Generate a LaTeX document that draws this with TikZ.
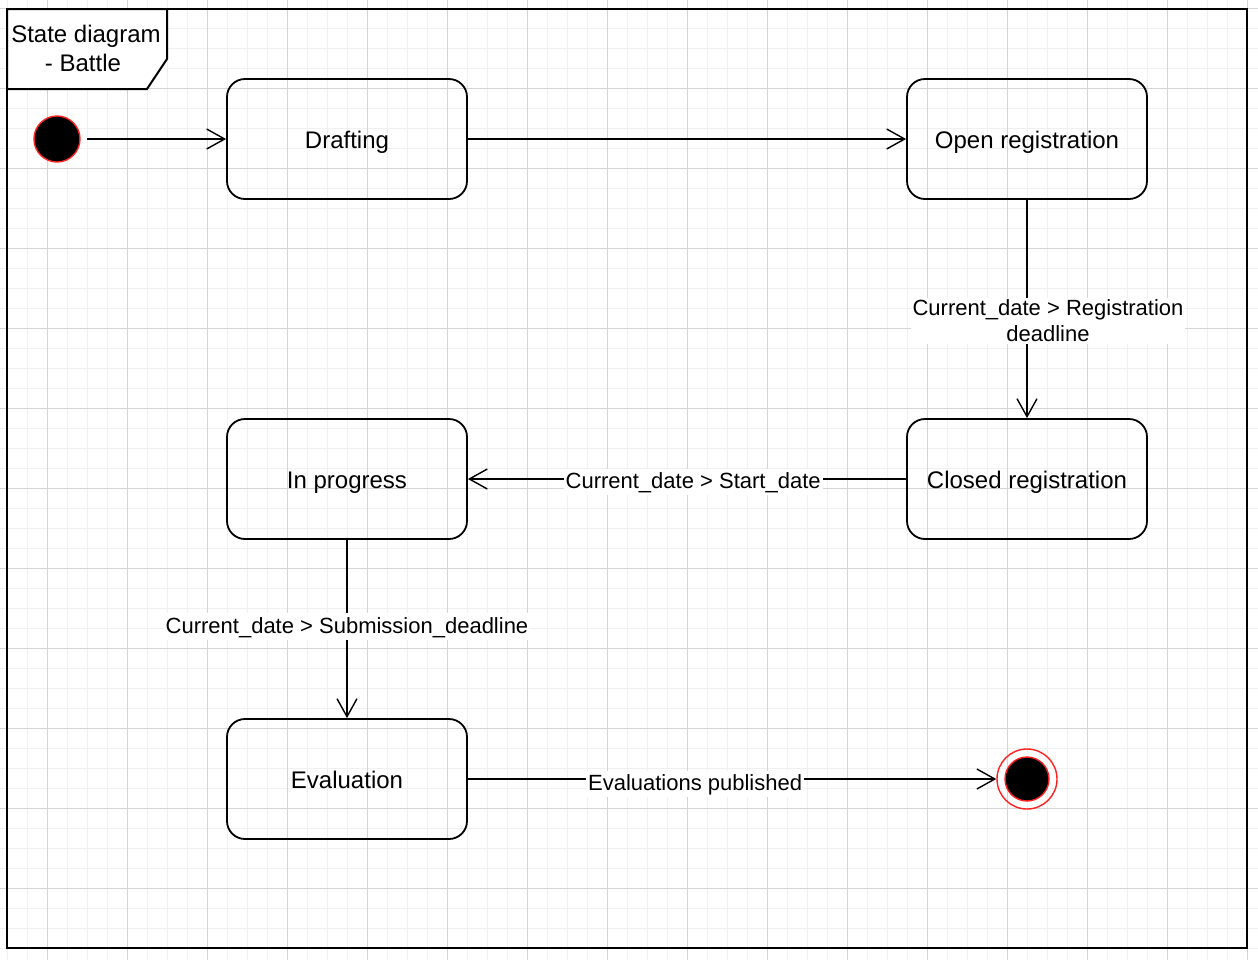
\documentclass[tikz,border=0pt]{standalone}
\usepackage{fontspec}
\setmainfont{Liberation Sans}
\usetikzlibrary{arrows.meta}
\definecolor{gridminor}{HTML}{F0F0F0}
\definecolor{gridmajor}{HTML}{D4D4D4}
\definecolor{stroke}{HTML}{FF2020}
\begin{document}
\begin{tikzpicture}[x=0.5pt, y=-0.5pt,
        state/.style={rectangle, draw, line width=0.9pt, rounded corners=9pt, minimum width=120pt, minimum height=60pt, text height=11.6pt, text depth=2.5pt, font=\fontsize{12}{14}\selectfont},
        initstate/.style={circle, minimum size=30pt, inner sep=0pt, path picture={\fill[draw=stroke, line width=0.7pt] (path picture bounding box.center) circle (11.5pt);}},
        finalstate/.style={circle, draw=stroke, line width=0.7pt, minimum size=30pt, inner sep=0pt, path picture={\fill[draw=stroke, line width=0.7pt] (path picture bounding box.center) circle (11pt);}},
        transition/.style={draw, line width=0.7pt, -{Straight Barb[length=9pt, width=10pt]}},
        guard/.style={fill=white, inner sep=1pt, font=\fontsize{11}{13}\selectfont, align=center},
        oneline/.style={text height=8.9pt, text depth=2.3pt, yshift=-1.5pt}]
    \useasboundingbox[fill=white] (0,0) rectangle (1258,960);

    % background grid
    \foreach \x in {7,27,...,1257} \draw[gridminor, line width=0.5pt] (\x,0) -- (\x,960);
    \foreach \y in {8,28,...,958} \draw[gridminor, line width=0.5pt] (0,\y) -- (1258,\y);
    \foreach \x in {47,127,...,1257} \draw[gridmajor, line width=0.5pt] (\x,0) -- (\x,960);
    \foreach \y in {8,88,...,958} \draw[gridmajor, line width=0.5pt] (0,\y) -- (1258,\y);

    % frame
    \draw[line width=1pt] (7,9) rectangle (1247,948);
    \draw[line width=1pt, fill=white] (7,9) -- (167,9) -- (167,59) -- (147,89) -- (7,89) -- cycle;
    \node[align=center, font=\fontsize{12}{14.5}\selectfont] (title) at (86,48) {State diagram\\\hspace*{-3pt}- Battle};

    \node[style=initstate] (init) at (57,139) {};
    \node[style=state] (draft) at (347,139) {Drafting};
    \node[style=state] (openreg) at (1027,139) {Open registration};
    \node[style=state] (closedreg) at (1027,479) {Closed registration};
    \node[style=state] (progress) at (347,479) {In progress};
    \node[style=state] (eval) at (347,779) {Evaluation};
    \node[style=finalstate] (final) at (1027,779) {};

    \draw[transition]
        (init) edge (draft)
        (draft) edge (openreg)
        (openreg) edge node[guard, pos=0.555, xshift=10.5pt] {Current\_date > Registration\\deadline} (closedreg)
        (closedreg) edge node[guard, oneline, pos=0.486] {Current\_date > Start\_date} (progress)
        (progress) edge node[guard, oneline, pos=0.47] {Current\_date > Submission\_deadline} (eval)
        (eval) edge node[guard, oneline, pos=0.43, yshift=-1pt] {Evaluations published} (final)
    ;
\end{tikzpicture}
\end{document}
